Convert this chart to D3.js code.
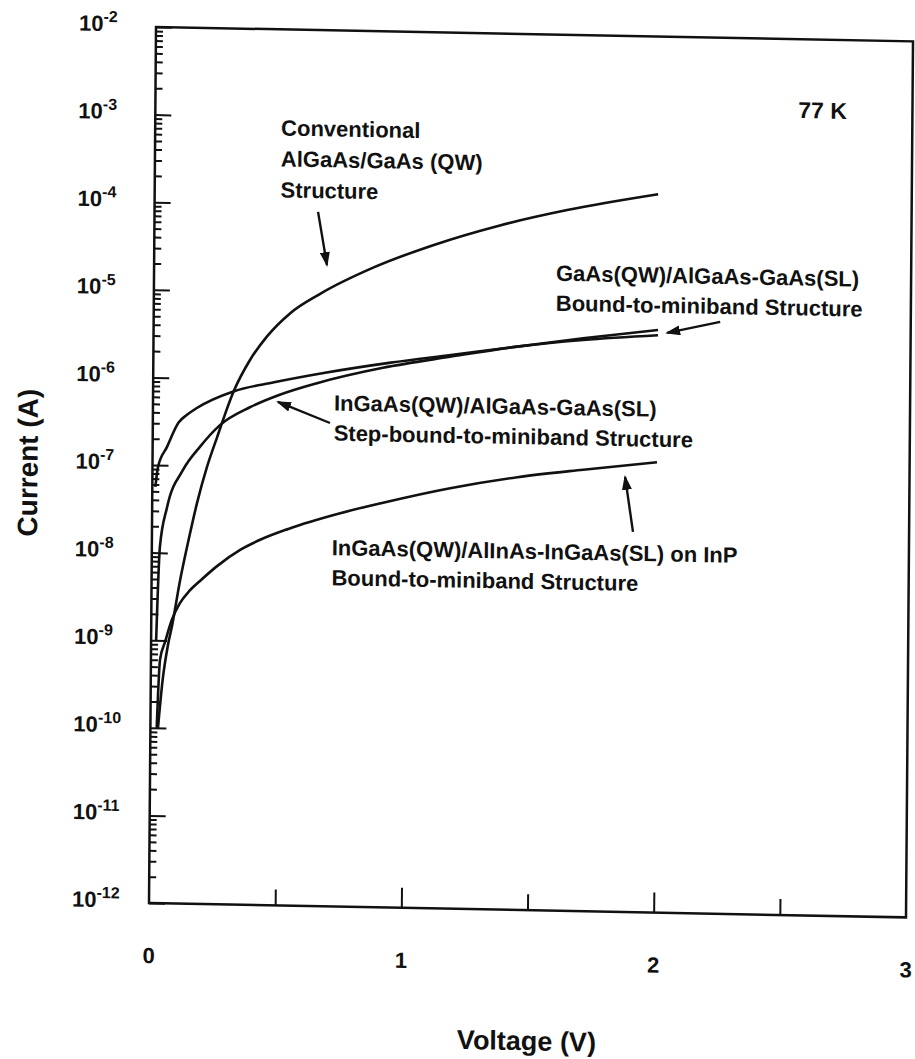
<!DOCTYPE html>
<html>
<head>
<meta charset="utf-8">
<script src="https://cdn.jsdelivr.net/npm/d3@7"></script>
<style>
  body { margin: 0; background: #fff; }
  text { font-family: "Liberation Sans", Arial, Helvetica, sans-serif; font-weight: bold; fill: #111; }
</style>
</head>
<body>
<div id="container"></div>
<script>
// values: voltage (V) and log10 of current (A)
const convV = [0.030, 0.047, 0.067, 0.082, 0.113, 0.143, 0.178, 0.216, 0.255, 0.321, 0.383, 0.449, 0.540, 0.659, 0.868, 1.105, 1.369, 1.635, 1.995];
const convLogI = [-10.0, -9.45, -9.05, -8.84, -8.31, -7.88, -7.42, -7.01, -6.67, -6.13, -5.78, -5.51, -5.24, -5.01, -4.70, -4.43, -4.19, -4.00, -3.80];

const gaasV = [0.012, 0.022, 0.057, 0.102, 0.135, 0.174, 0.321, 0.479, 0.681, 0.941, 1.179, 1.441, 1.702, 1.999];
const gaasLogI = [-7.25, -7.02, -6.79, -6.51, -6.42, -6.34, -6.14, -6.03, -5.91, -5.78, -5.68, -5.57, -5.46, -5.35];

const stepV = [0.020, 0.032, 0.059, 0.121, 0.188, 0.266, 0.384, 0.502, 0.649, 0.910, 1.175, 1.441, 1.702, 1.999];
const stepLogI = [-9.0, -7.93, -7.48, -7.05, -6.78, -6.53, -6.32, -6.17, -6.03, -5.84, -5.70, -5.57, -5.48, -5.41];

const inpV = [0.025, 0.036, 0.055, 0.082, 0.113, 0.150, 0.193, 0.259, 0.350, 0.429, 0.540, 0.745, 0.915, 1.180, 1.446, 1.707, 1.999];
const inpLogI = [-10.0, -9.22, -9.02, -8.76, -8.57, -8.43, -8.31, -8.14, -7.95, -7.83, -7.70, -7.51, -7.38, -7.20, -7.06, -6.96, -6.86];

const yExponents = [-12, -11, -10, -9, -8, -7, -6, -5, -4, -3, -2];
const xLabels = [0, 1, 2, 3];
const xTicksLong = [1, 2];
const xTicksShort = [0.5, 1.5, 2.5];

// annotations: text lines anchored at (V, log10 I), arrows from tail to head
const notes = [
  { v: 0.499, logI: -3.21, lines: ["Conventional", "AlGaAs/GaAs (QW)", "Structure"], gap: 31 },
  { v: 1.593, logI: -4.81, lines: ["GaAs(QW)/AlGaAs-GaAs(SL)", "Bound-to-miniband Structure"], gap: 30 },
  { v: 0.717, logI: -6.34, lines: ["InGaAs(QW)/AlGaAs-GaAs(SL)", "Step-bound-to-miniband Structure"], gap: 30 },
  { v: 0.713, logI: -7.99, lines: ["InGaAs(QW)/AlInAs-InGaAs(SL) on InP", "Bound-to-miniband Structure"], gap: 30 }
];
const arrows = [
  { v0: 0.648, l0: -4.075, v1: 0.685, l1: -4.68 },
  { v0: 2.245, l0: -5.244, v1: 2.035, l1: -5.381 },
  { v0: 0.702, l0: -6.482, v1: 0.495, l1: -6.253 },
  { v0: 1.906, l0: -7.66, v1: 1.873, l1: -7.033 }
];

const width = 915, height = 1059;
const margin = { top: 27, right: 9, bottom: 156, left: 149 };
const plotRight = width - margin.right;
const plotBottom = height - margin.bottom;

const svg = d3.select("#container").append("svg")
  .attr("width", width)
  .attr("height", height);

svg.append("rect").attr("width", width).attr("height", height).attr("fill", "#fff");

svg.append("defs").append("marker")
  .attr("id", "head")
  .attr("markerUnits", "userSpaceOnUse")
  .attr("markerWidth", 15).attr("markerHeight", 10)
  .attr("refX", 13).attr("refY", 5)
  .attr("orient", "auto")
  .append("path").attr("d", "M0,0 L15,5 L0,10 Z").attr("fill", "#111");

// the original scan is slightly skewed
const g = svg.append("g").attr("transform", "matrix(1,0.019,-0.008,1,7.22,-2.83)");

const xScale = d3.scaleLinear().domain([0, 3]).range([margin.left, plotRight]);
const yScale = d3.scaleLog().domain([1e-12, 1e-2]).range([plotBottom, margin.top]);

// y ticks, pointing inward
const majors = yExponents.map(e => Math.pow(10, e));
const minors = [];
yExponents.slice(0, -1).forEach(e => {
  for (let k = 2; k <= 9; k++) minors.push(k * Math.pow(10, e));
});

g.append("g")
  .attr("transform", `translate(${margin.left},0)`)
  .call(d3.axisRight(yScale).tickValues(majors).tickSize(16).tickFormat(""))
  .call(s => s.select(".domain").remove())
  .selectAll("line").attr("stroke", "#111").attr("stroke-width", 2);

g.append("g")
  .attr("transform", `translate(${margin.left},0)`)
  .call(d3.axisRight(yScale).tickValues(minors).tickSize(7).tickFormat(""))
  .call(s => s.select(".domain").remove())
  .selectAll("line").attr("stroke", "#111").attr("stroke-width", 2);

// x ticks, pointing inward
g.append("g")
  .attr("transform", `translate(0,${plotBottom})`)
  .call(d3.axisTop(xScale).tickValues(xTicksLong).tickSize(20).tickFormat(""))
  .call(s => s.select(".domain").remove())
  .selectAll("line").attr("stroke", "#111").attr("stroke-width", 2);

g.append("g")
  .attr("transform", `translate(0,${plotBottom})`)
  .call(d3.axisTop(xScale).tickValues(xTicksShort).tickSize(16).tickFormat(""))
  .call(s => s.select(".domain").remove())
  .selectAll("line").attr("stroke", "#111").attr("stroke-width", 2);

// frame
g.append("rect")
  .attr("x", margin.left).attr("y", margin.top)
  .attr("width", plotRight - margin.left)
  .attr("height", plotBottom - margin.top)
  .attr("fill", "none").attr("stroke", "#111").attr("stroke-width", 2.5);

// y tick labels 10^n
const yLab = g.append("g").selectAll("text")
  .data(yExponents)
  .join("text")
  .attr("x", 72)
  .attr("y", d => yScale(Math.pow(10, d)) + 5)
  .style("font-size", "22px");
yLab.append("tspan").text("10");
yLab.append("tspan").attr("dy", -9).style("font-size", "16px").text(d => "-" + Math.abs(d));

// x tick labels
g.append("g").selectAll("text")
  .data(xLabels)
  .join("text")
  .attr("x", d => xScale(d))
  .attr("y", plotBottom + 60)
  .attr("text-anchor", "middle")
  .style("font-size", "22px")
  .text(d => d);

g.append("text")
  .attr("x", (margin.left + plotRight) / 2)
  .attr("y", 1043)
  .attr("text-anchor", "middle")
  .style("font-size", "27px")
  .text("Voltage (V)");

g.append("text")
  .attr("transform", `translate(34,${(margin.top + plotBottom) / 2}) rotate(-90)`)
  .attr("text-anchor", "middle")
  .style("font-size", "28px")
  .text("Current (A)");

g.append("text")
  .attr("x", xScale(2.548))
  .attr("y", yScale(Math.pow(10, -2.90)))
  .style("font-size", "23px")
  .text("77 K");

// curves
const line = d3.line()
  .x(d => xScale(d.v))
  .y(d => yScale(d.i))
  .curve(d3.curveMonotoneX);

const series = [
  [convV, convLogI],
  [gaasV, gaasLogI],
  [stepV, stepLogI],
  [inpV, inpLogI]
].map(([vs, ls]) => vs.map((v, k) => ({ v: v, i: Math.pow(10, ls[k]) })));

g.append("g").selectAll("path")
  .data(series)
  .join("path")
  .attr("d", line)
  .attr("fill", "none")
  .attr("stroke", "#111")
  .attr("stroke-width", 2.6)
  .attr("stroke-linejoin", "round");

// arrows
g.append("g").selectAll("line")
  .data(arrows)
  .join("line")
  .attr("x1", d => xScale(d.v0)).attr("y1", d => yScale(Math.pow(10, d.l0)))
  .attr("x2", d => xScale(d.v1)).attr("y2", d => yScale(Math.pow(10, d.l1)))
  .attr("stroke", "#111").attr("stroke-width", 2.4)
  .attr("marker-end", "url(#head)");

// annotation text
const noteG = g.append("g").selectAll("text")
  .data(notes)
  .join("text")
  .attr("x", d => xScale(d.v))
  .attr("y", d => yScale(Math.pow(10, d.logI)))
  .style("font-size", "22px");
noteG.selectAll("tspan")
  .data(d => d.lines.map((t, k) => ({ t: t, k: k, gap: d.gap, x: xScale(d.v) })))
  .join("tspan")
  .attr("x", d => d.x)
  .attr("dy", d => (d.k === 0 ? 0 : d.gap))
  .text(d => d.t);
</script>
</body>
</html>
